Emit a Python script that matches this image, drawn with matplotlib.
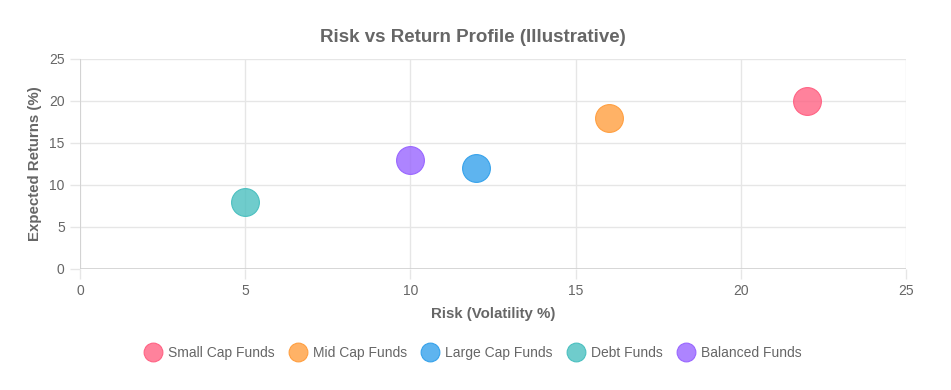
import matplotlib
matplotlib.use("Agg")
import matplotlib.pyplot as plt
from matplotlib.lines import Line2D

plt.rcParams['font.family'] = ['Liberation Sans', 'DejaVu Sans']

categories = ["Small Cap Funds", "Mid Cap Funds", "Large Cap Funds", "Debt Funds", "Balanced Funds"]
risk = [22, 16, 12, 5, 10]
returns = [20, 18, 12, 8, 13]
colors = [(1.0, 99/255, 132/255, 0.8), (1.0, 159/255, 64/255, 0.8), (54/255, 162/255, 235/255, 0.8),
          (75/255, 192/255, 192/255, 0.8), (153/255, 102/255, 1.0, 0.8)]
ticks = [0, 5, 10, 15, 20, 25]

W, H = 951, 390
fig = plt.figure(figsize=(W/100, H/100), dpi=100)
ax = fig.add_axes([80/W, (H-269)/H, (906-80)/W, (269-59)/H])

txt = '#666666'
grid = '#e6e6e6'
for x, y, c in zip(risk, returns, colors):
    ax.scatter([x], [y], s=400, color=c, edgecolors=c[:3] + (1.0,), linewidths=0.8, zorder=3, clip_on=False)

ax.set_xlim(0, 25)
ax.set_ylim(0, 25)
ax.set_xticks(ticks)
ax.set_yticks(ticks)
for s in ax.spines.values():
    s.set_visible(False)
ax.tick_params(length=7, width=1, color=grid, labelcolor=txt, labelsize=10, pad=4)
ax.grid(True, color=grid, linewidth=1, zorder=0)
ax.set_axisbelow(True)
ax.axhline(0, color='#d0d0d0', linewidth=1.2, zorder=2)
ax.axvline(0, color='#d0d0d0', linewidth=1.2, zorder=2)
ax.set_xlabel("Risk (Volatility %)", fontsize=10.8, fontweight='bold', color=txt, labelpad=6)
ax.set_ylabel("Expected Returns (%)", fontsize=10.8, fontweight='bold', color=txt)
ax.yaxis.set_label_coords((35 - 80) / (906 - 80), 0.5)
ax.yaxis.label.set_va('center')
fig.text(473/W, 1 - 37/H, "Risk vs Return Profile (Illustrative)", ha='center', va='center',
         fontsize=13.5, fontweight='bold', color=txt)

handles = [Line2D([], [], marker='o', linestyle='', markersize=13.5, markerfacecolor=c,
                  markeredgecolor=c[:3] + (1.0,), markeredgewidth=0.8) for c in colors]
leg = fig.legend(handles, categories, loc='center', bbox_to_anchor=(473/W, 1 - 353/H), ncol=5,
                 frameon=False, fontsize=10, handletextpad=0.45, columnspacing=1.1, handlelength=1.2)
for t in leg.get_texts():
    t.set_color(txt)

fig.savefig("out.png", dpi=100)
